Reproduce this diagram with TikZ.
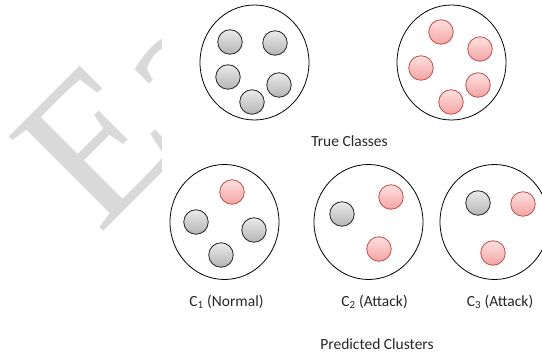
\documentclass[tikz,border=0pt]{standalone}
\usepackage{fontspec}
\setmainfont{Carlito}
\newfontfamily\wmfont{Liberation Serif}
\usetikzlibrary{shapes.geometric}
\definecolor{redline}{HTML}{C0504D}
\definecolor{redtop}{HTML}{FFE0E0}
\definecolor{redbot}{HTML}{F4A4A4}
\definecolor{graytop}{HTML}{EBEBEB}
\definecolor{graybot}{HTML}{B4B4B4}
\tikzset{
  bigset/.style={draw=black, line width=0.8pt, ellipse, minimum width=109pt, minimum height=115pt, inner sep=0pt},
  gball/.style={circle, draw=black!85, line width=0.8pt, minimum size=24.5pt, inner sep=0pt, top color=graytop, bottom color=graybot},
  rball/.style={circle, draw=redline, line width=0.8pt, minimum size=24.5pt, inner sep=0pt, top color=redtop, bottom color=redbot},
  lbl/.style={font=\fontsize{15.5}{18}\selectfont, text=black!85, inner sep=0pt}
}
\begin{document}
\begin{tikzpicture}[x=1pt,y=-1pt]
\useasboundingbox (0,0) rectangle (542,355);
% watermark
\begin{scope}
\clip (0,0) rectangle (161,355);
\node[rotate=45, anchor=base west, inner sep=0pt, text=black!15, font=\fontsize{204}{204}\selectfont\wmfont] (wm) at (99,236) {Ea};
\end{scope}
% big sets
\node[bigset] (tn) at (254.5,62.5) {};
\node[bigset] (ta) at (451.5,62.5) {};
\node[bigset] (c1) at (224.5,222) {};
\node[bigset] (c2) at (368.5,222) {};
\node[bigset] (c3) at (494.5,222) {};
% true normal
\node[gball] (n1) at (230,42) {};
\node[gball] (n2) at (275,43) {};
\node[gball] (n3) at (228,77) {};
\node[gball] (n4) at (279,85) {};
\node[gball] (n5) at (252,102) {};
% true attack
\node[rball] (a1) at (441,32) {};
\node[rball] (a2) at (480,49) {};
\node[rball] (a3) at (421,68) {};
\node[rball] (a4) at (478,85) {};
\node[rball] (a5) at (451,102) {};
% C1
\node[rball] (c1r) at (232,192) {};
\node[gball] (c1a) at (196,222) {};
\node[gball] (c1b) at (254,230) {};
\node[gball] (c1c) at (221,255) {};
% C2
\node[gball] (c2a) at (342,214) {};
\node[rball] (c2r) at (391,197) {};
\node[rball] (c2s) at (379,249) {};
% C3
\node[gball] (c3a) at (478,203) {};
\node[rball] (c3r) at (523,204) {};
\node[rball] (c3s) at (493,253) {};
% labels
\node[lbl] (tc) at (349.5,141) {True Classes};
\node[lbl] (l1) at (226.5,302) {C\textsubscript{1} (Normal)};
\node[lbl] (l2) at (374.5,302) {C\textsubscript{2} (Attack)};
\node[lbl] (l3) at (500,302) {C\textsubscript{3} (Attack)};
\node[lbl] (pc) at (377,344) {Predicted Clusters};
\end{tikzpicture}
\end{document}
